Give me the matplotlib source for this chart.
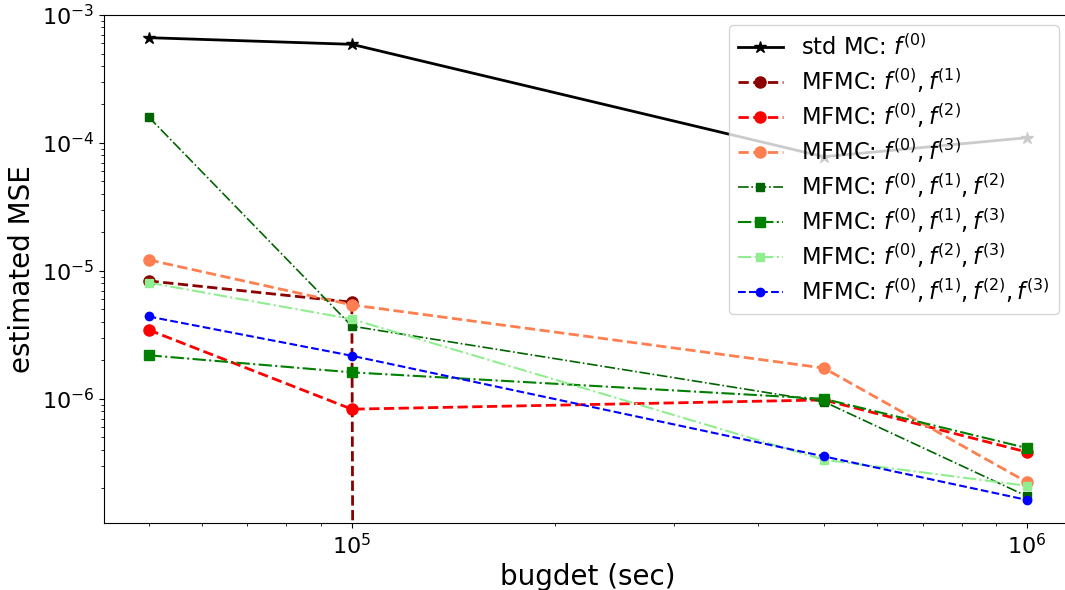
import numpy as np
import matplotlib
matplotlib.use('Agg')
import matplotlib.pyplot as plt

# budżety (sec)
budgets = [5e4, 1e5, 5e5, 1e6]

# estymowane MSE
mse_std_mc = [6.65e-4, 5.9e-4, 7.8e-5, 1.1e-4]
mse_f0_f1 = [8.35e-6, 5.69e-6, 0.0, 0.0]
mse_f0_f2 = [3.46e-6, 8.3e-7, 9.8e-7, 3.83e-7]
mse_f0_f3 = [1.22e-5, 5.42e-6, 1.74e-6, 2.23e-7]
mse_f0_f1_f2 = [1.6e-4, 3.7e-6, 9.5e-7, 1.73e-7]
mse_f0_f1_f3 = [2.19e-6, 1.61e-6, 1.0e-6, 4.12e-7]
mse_f0_f2_f3 = [8.1e-6, 4.2e-6, 3.34e-7, 2.09e-7]
mse_all = [4.4e-6, 2.17e-6, 3.55e-7, 1.62e-7]

labels = [
    r'std MC: $f^{(0)}$',
    r'MFMC: $f^{(0)}, f^{(1)}$',
    r'MFMC: $f^{(0)}, f^{(2)}$',
    r'MFMC: $f^{(0)}, f^{(3)}$',
    r'MFMC: $f^{(0)}, f^{(1)}, f^{(2)}$',
    r'MFMC: $f^{(0)}, f^{(1)}, f^{(3)}$',
    r'MFMC: $f^{(0)}, f^{(2)}, f^{(3)}$',
    r'MFMC: $f^{(0)}, f^{(1)}, f^{(2)}, f^{(3)}$',
]

fig = plt.figure(figsize=(10.65, 5.9), dpi=100)
ax = fig.add_axes([104 / 1065, 1 - 523 / 590, 967 / 1065, 508 / 590])

ax.plot(budgets, mse_std_mc, '-', marker='*', color='black', lw=2, ms=9, label=labels[0])
ax.plot(budgets, mse_f0_f1, '--', marker='o', color='darkred', lw=2, ms=8, label=labels[1])
ax.plot(budgets, mse_f0_f2, '--', marker='o', color='red', lw=2, ms=8, label=labels[2])
ax.plot(budgets, mse_f0_f3, '--', marker='o', color='coral', lw=2, ms=8, label=labels[3])
ax.plot(budgets, mse_f0_f1_f2, '-.', marker='s', color='darkgreen', lw=1.2, ms=6, label=labels[4])
ax.plot(budgets, mse_f0_f1_f3, '-.', marker='s', color='green', lw=1.5, ms=7, label=labels[5])
ax.plot(budgets, mse_f0_f2_f3, '-.', marker='s', color='lightgreen', lw=1.5, ms=6, label=labels[6])
ax.plot(budgets, mse_all, '--', marker='o', color='blue', lw=1.5, ms=6, label=labels[7])

ax.set_xscale('log')
ax.set_yscale('log')
ax.set_xlim(10**4.633, 10**6.065)
ax.set_ylim(1.07e-7, 1e-3)

ax.set_xlabel('bugdet (sec)', fontsize=20)
ax.set_ylabel('estimated MSE', fontsize=20)
ax.tick_params(axis='both', which='major', labelsize=16)

ax.legend(fontsize=16.3, loc='upper right', bbox_to_anchor=(1059 / 1065, 1 - 25 / 590),
          bbox_transform=fig.transFigure, borderaxespad=0, handlelength=2.0,
          labelspacing=0.28)

fig.savefig('out.png', dpi=100)
